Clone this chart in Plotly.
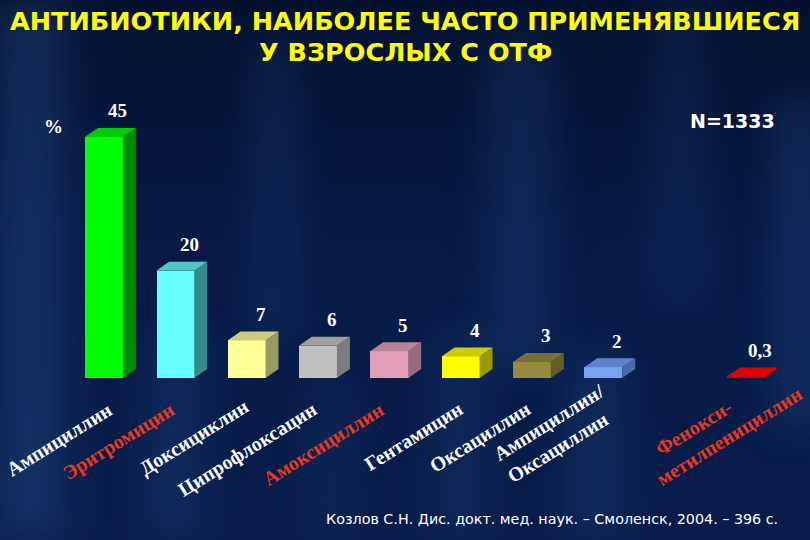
import base64
import plotly.graph_objects as go

# ---- data ----
categories = ["Ампициллин", "Эритромицин", "Доксициклин", "Ципрофлоксацин",
              "Амоксициллин", "Гентамицин", "Оксациллин",
              "Ампициллин/<br>Оксациллин", "&nbsp;&nbsp;&nbsp;Фенокси-<br>метилпенициллин"]
values = [45, 20, 7, 6, 5, 4, 3, 2, 0.3]
value_labels = ["45", "20", "7", "6", "5", "4", "3", "2", "0,3"]
positions = [0, 1, 2, 3, 4, 5, 6, 7, 9]
highlighted = [False, True, False, False, True, False, False, False, True]

front_colors = ["#00ff00", "#66ffff", "#ffff99", "#c0c0c0", "#e3a0b8",
                "#ffff00", "#968a40", "#7ba2f2", "#cc0000"]
top_colors = ["#00cc00", "#55c6c6", "#cccc7a", "#a0a0a0", "#b98299",
              "#cccc00", "#7a7034", "#5f82cc", "#e00000"]
side_colors = ["#008a00", "#378a8a", "#999966", "#7c7c7c", "#9a6a7e",
               "#999900", "#665e26", "#4c69ad", "#990000"]

title_lines = ["АНТИБИОТИКИ, НАИБОЛЕЕ ЧАСТО ПРИМЕНЯВШИЕСЯ", "У ВЗРОСЛЫХ С ОТФ"]
n_text = "N=1333"
unit_text = "%"
source_text = "Козлов С.Н. Дис. докт. мед. наук. – Смоленск, 2004. – 396 с."

# ---- geometry / style ----
W, H = 810, 540
bar_w = 0.533
x_range = [-0.9, 9.9]
y_range = [0, 50]
x_dom = [0.049, 1.0]
y_dom = [0.3, 0.796]
px_per_x = (x_dom[1] - x_dom[0]) * W / (x_range[1] - x_range[0])
px_per_y = (y_dom[1] - y_dom[0]) * H / (y_range[1] - y_range[0])
dx = 13 / px_per_x
dy = 9 / px_per_y
label_xshift = [15, 6, 9, 6, 1, 9, 5, 22, 63]      # px nudges of category labels
label_yshift = [-17, -17, -14, -17, -17, -17, -17, 1, 20]
label_align = ["center"] * 7 + ["left", "left"]

# ---- background ----
streaks = [(-30, 120, 0, 540, 0.38), (130, 90, 330, 210, 0.28), (240, 70, 40, 300, 0.24),
           (420, 80, 330, 210, 0.24), (470, 100, 40, 330, 0.28), (550, 90, 350, 190, 0.28),
           (640, 80, 0, 300, 0.2), (760, 80, 100, 330, 0.32), (300, 60, 380, 160, 0.2)]
svg = ["<svg xmlns='http://www.w3.org/2000/svg' width='810' height='540'>",
       "<defs>",
       "<linearGradient id='v' x1='0' y1='0' x2='0' y2='1'>",
       "<stop offset='0' stop-color='#03112f'/>",
       "<stop offset='0.45' stop-color='#061a45'/>",
       "<stop offset='1' stop-color='#081d4a'/></linearGradient>",
       "<linearGradient id='s' x1='0' y1='0' x2='1' y2='0'>",
       "<stop offset='0' stop-color='#2f5ea3' stop-opacity='0'/>",
       "<stop offset='0.5' stop-color='#2f5ea3' stop-opacity='1'/>",
       "<stop offset='1' stop-color='#2f5ea3' stop-opacity='0'/></linearGradient>",
       "<filter id='b' x='-50%' y='-50%' width='200%' height='200%'>"
       "<feGaussianBlur stdDeviation='18'/></filter>",
       "</defs>",
       "<rect width='810' height='540' fill='url(#v)'/>"]
for sx, sw, sy, sh, op in streaks:
    svg.append(f"<rect x='{sx}' y='{sy}' width='{sw}' height='{sh}' fill='url(#s)' "
               f"opacity='{op}' filter='url(#b)'/>")
svg.append("</svg>")
bg_uri = "data:image/svg+xml;base64," + base64.b64encode("".join(svg).encode()).decode()

fig = go.Figure()

# front faces
fig.add_trace(go.Bar(x=positions, y=values, width=bar_w,
                     marker=dict(color=front_colors, line=dict(width=0)),
                     hoverinfo="skip", showlegend=False))

# 3D side and top faces derived from the data
for p, v, tc, sc in zip(positions, values, top_colors, side_colors):
    x0, x1 = p - bar_w / 2, p + bar_w / 2
    fig.add_trace(go.Scatter(x=[x1, x1 + dx, x1 + dx, x1, x1],
                             y=[0, dy, v + dy, v, 0],
                             fill="toself", fillcolor=sc, mode="none",
                             hoverinfo="skip", showlegend=False))
    fig.add_trace(go.Scatter(x=[x0, x1, x1 + dx, x0 + dx, x0],
                             y=[v, v, v + dy, v + dy, v],
                             fill="toself", fillcolor=tc, mode="none",
                             hoverinfo="skip", showlegend=False))

annotations = []
for p, v, t in zip(positions, values, value_labels):
    annotations.append(dict(x=p, y=v, xref="x", yref="y", text=f"<b>{t}</b>",
                            showarrow=False, xshift=14, yshift=26,
                            xanchor="center", yanchor="middle",
                            font=dict(family="Liberation Serif", size=19, color="white")))

# category labels (rotated), anchored at their upper-right end below each bar
for p, c, hl, xs, ys, al in zip(positions, categories, highlighted,
                                label_xshift, label_yshift, label_align):
    annotations.append(dict(x=p, y=0, xref="x", yref="y", text=f"<b>{c}</b>",
                            showarrow=False, textangle=-32, align=al,
                            xanchor="right", yanchor="top", xshift=xs, yshift=ys,
                            font=dict(family="Liberation Serif", size=20,
                                      color="#e8391f" if hl else "white")))

annotations += [
    dict(x=0.5, y=1 - 21 / H, xref="paper", yref="paper", text=f"<b>{title_lines[0]}</b>",
         showarrow=False, xanchor="center", yanchor="middle",
         font=dict(family="DejaVu Sans", size=25.5, color="#ffff00")),
    dict(x=0.5, y=1 - 52 / H, xref="paper", yref="paper", text=f"<b>{title_lines[1]}</b>",
         showarrow=False, xanchor="center", yanchor="middle",
         font=dict(family="DejaVu Sans", size=25.5, color="#ffff00")),
    dict(x=777 / W, y=1 - 121 / H, xref="paper", yref="paper", text=f"<b>{n_text}</b>",
         showarrow=False, xanchor="right", yanchor="middle",
         font=dict(family="DejaVu Sans", size=19, color="white")),
    dict(x=53 / W, y=1 - 126 / H, xref="paper", yref="paper", text=f"<b>{unit_text}</b>",
         showarrow=False, xanchor="center", yanchor="middle",
         font=dict(family="Liberation Serif", size=19, color="white")),
    dict(x=780 / W, y=1 - 519 / H, xref="paper", yref="paper", text=source_text,
         showarrow=False, xanchor="right", yanchor="middle",
         font=dict(family="DejaVu Sans", size=14.3, color="white")),
]

fig.update_layout(
    width=W, height=H,
    margin=dict(l=0, r=0, t=0, b=0),
    paper_bgcolor="#061a45", plot_bgcolor="rgba(0,0,0,0)",
    images=[dict(source=bg_uri, xref="paper", yref="paper", x=0, y=1, sizex=1, sizey=1,
                 sizing="stretch", layer="below", xanchor="left", yanchor="top")],
    xaxis=dict(domain=x_dom, range=x_range, visible=False, automargin=False,
               fixedrange=True),
    yaxis=dict(domain=y_dom, range=y_range, visible=False, automargin=False,
               fixedrange=True),
    annotations=annotations,
    bargap=0,
)

fig.write_html("out.html", config={"displayModeBar": False},
               post_script="document.body.style.margin='0';document.body.style.background='#061a45';")
